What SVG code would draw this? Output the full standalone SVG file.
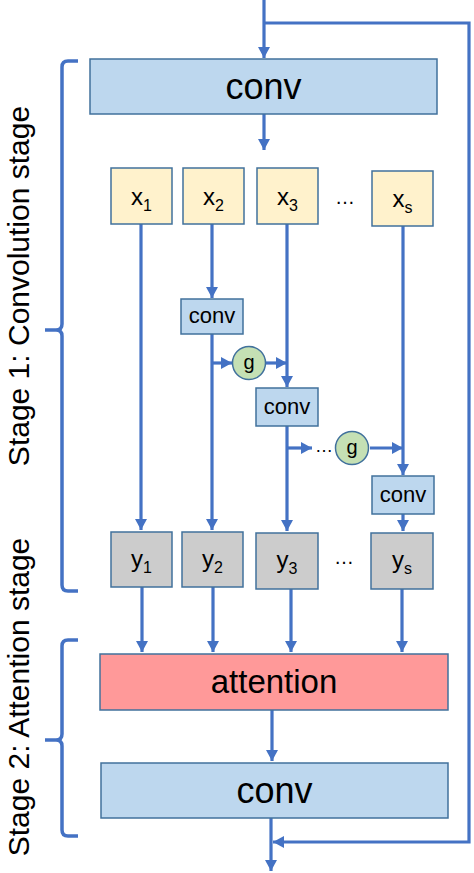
<svg xmlns="http://www.w3.org/2000/svg" width="474" height="873" viewBox="0 0 474 873">
<defs>
<marker id="ah" markerUnits="userSpaceOnUse" markerWidth="12" markerHeight="12" refX="11" refY="6" orient="auto">
<path d="M0,0 L11,6 L0,12 z" fill="#4472C4"/>
</marker>
<style>
.ln{fill:none;stroke:#4472C4;stroke-width:3.2}
.ar{fill:none;stroke:#4472C4;stroke-width:3.2;marker-end:url(#ah)}
.br{fill:none;stroke:#4472C4;stroke-width:3.5}
.box{stroke:#41719C;stroke-width:1.5}
.blue{fill:#BDD7EE}
.yel{fill:#FFF2CC}
.gray{fill:#CCCCCC}
.red{fill:#FF9999}
.grn{fill:#C5E0B4;stroke:#41719C;stroke-width:1.5}
text{font-family:"Liberation Sans",Arial,sans-serif;fill:#000;text-anchor:middle}
.big{font-size:36px}
.sm{font-size:22px}
.lab{font-size:24px}
.sub{font-size:16px}
.stg{text-anchor:middle;font-size:30px}
</style>
</defs>
<g id="connectors">
<path class="ar" d="M264,0 V58"/>
<path class="ar" d="M264,23 H469 V842 H273"/>
<path class="ar" d="M264,114 V150"/>
<path class="ar" d="M141,224 V530"/>
<path class="ar" d="M212,224 V298"/>
<path class="ar" d="M212,334 V530"/>
<path class="ar" d="M212,363 H232"/>
<path class="ar" d="M266,363 H287"/>
<path class="ar" d="M287,224 V387"/>
<path class="ar" d="M287,426 V531"/>
<path class="ar" d="M287,448 H312"/>
<path class="ar" d="M370,448 H403"/>
<path class="ar" d="M403,226 V475"/>
<path class="ar" d="M403,514 V531"/>
<path class="ar" d="M142,587 V652"/>
<path class="ar" d="M213,587 V652"/>
<path class="ar" d="M291,589 V652"/>
<path class="ar" d="M402,589 V652"/>
<path class="ar" d="M272,710 V761"/>
<path class="ar" d="M271,818 V871"/>
</g>
<g id="brackets">
<path class="br" d="M78,61 H68 Q62,61 62,67 V324 Q62,330 56,330 H45 M56,330 Q62,330 62,336 V585 Q62,591 68,591 H78"/>
<path class="br" d="M78,640 H68 Q62,640 62,646 V734 Q62,740 56,740 H45 M56,740 Q62,740 62,746 V830 Q62,836 68,836 H78"/>
</g>
<g id="stage1-label"><text class="stg" transform="translate(28.5,286) rotate(-90)">Stage 1: Convolution stage</text></g>
<g id="stage2-label"><text class="stg" transform="translate(28.5,697) rotate(-90)">Stage 2: Attention stage</text></g>
<g id="conv-top"><rect class="box blue" x="90" y="59" width="347" height="55"/><text class="big" x="263.5" y="99">conv</text></g>
<g id="x1"><rect class="box yel" x="111" y="168" width="61" height="56"/><text class="lab" x="141.5" y="205">x<tspan class="sub" dy="6">1</tspan></text></g>
<g id="x2"><rect class="box yel" x="183" y="168" width="61" height="56"/><text class="lab" x="213.5" y="205">x<tspan class="sub" dy="6">2</tspan></text></g>
<g id="x3"><rect class="box yel" x="257" y="168" width="61" height="56"/><text class="lab" x="287.5" y="205">x<tspan class="sub" dy="6">3</tspan></text></g>
<g id="xdots"><text style="font-size:20px" x="345" y="204">…</text></g>
<g id="xs"><rect class="box yel" x="372" y="171" width="61" height="55"/><text class="lab" x="402.5" y="207">x<tspan class="sub" dy="6">s</tspan></text></g>
<g id="conv2"><rect class="box blue" x="181" y="299" width="62" height="35"/><text class="sm" x="212" y="323">conv</text></g>
<g id="g1"><circle class="grn" cx="249" cy="363" r="16.5"/><text style="font-size:20px" x="249" y="369">g</text></g>
<g id="conv3"><rect class="box blue" x="256" y="388" width="62" height="38"/><text class="sm" x="287" y="414">conv</text></g>
<g id="gdots"><text style="font-size:18px" x="324" y="452">…</text></g>
<g id="g2"><circle class="grn" cx="352" cy="448" r="16.5"/><text style="font-size:20px" x="352" y="454">g</text></g>
<g id="conv4"><rect class="box blue" x="372" y="476" width="62" height="38"/><text class="sm" x="403" y="502">conv</text></g>
<g id="y1"><rect class="box gray" x="111" y="532" width="61" height="55"/><text class="lab" x="141.5" y="567">y<tspan class="sub" dy="6">1</tspan></text></g>
<g id="y2"><rect class="box gray" x="182" y="532" width="61" height="55"/><text class="lab" x="212.5" y="567">y<tspan class="sub" dy="6">2</tspan></text></g>
<g id="y3"><rect class="box gray" x="256" y="533" width="62" height="56"/><text class="lab" x="287" y="568">y<tspan class="sub" dy="6">3</tspan></text></g>
<g id="ydots"><text style="font-size:20px" x="344" y="564">…</text></g>
<g id="ys"><rect class="box gray" x="371" y="533" width="62" height="56"/><text class="lab" x="402" y="568">y<tspan class="sub" dy="6">s</tspan></text></g>
<g id="attention"><rect class="box red" x="100" y="654" width="348" height="56"/><text style="font-size:33px" x="274" y="693">attention</text></g>
<g id="conv-bottom"><rect class="box blue" x="101" y="763" width="347" height="55"/><text class="big" x="274.5" y="803">conv</text></g>
</svg>
